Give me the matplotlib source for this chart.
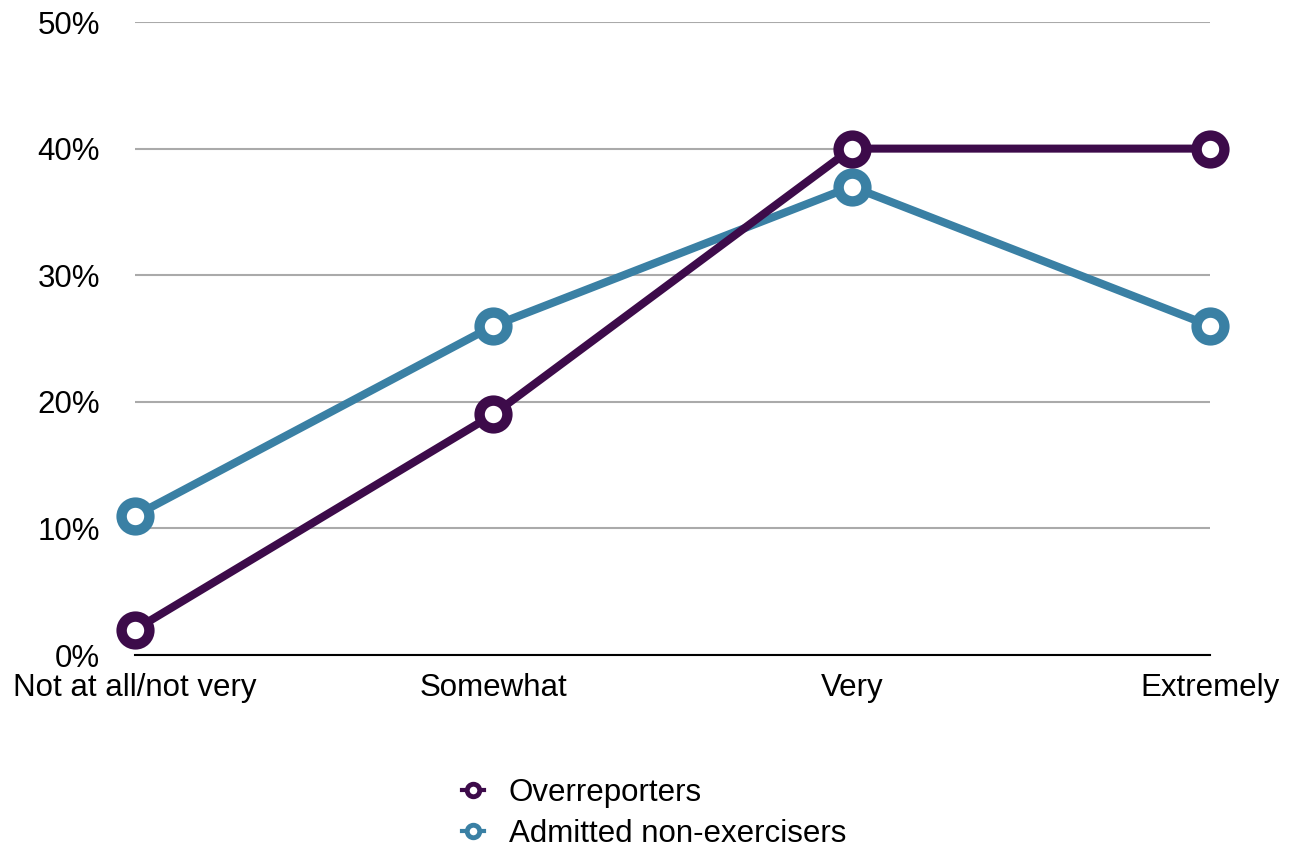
import matplotlib.pyplot as plt
from matplotlib.ticker import FuncFormatter

plt.rcParams['font.family'] = ['Liberation Sans', 'DejaVu Sans']

categories = ['Not at all/not very', 'Somewhat', 'Very', 'Extremely']
overreporters = [2, 19, 40, 40]
admitted = [11, 26, 37, 26]

purple = '#3d0b4a'
blue = '#3a80a4'

fig = plt.figure(figsize=(12.95, 8.5), dpi=100)
ax = fig.add_axes([0.1042, 0.2294, 0.8302, 0.7447])

x = range(len(categories))
style = dict(linewidth=5.8, marker='o', markersize=20, markeredgewidth=7.5,
             markerfacecolor='white', clip_on=False, zorder=3)
ax.plot(x, admitted, color=blue, label='Admitted non-exercisers', **style)
ax.plot(x, overreporters, color=purple, label='Overreporters', **style)

ax.set_xlim(0, 3)
ax.set_ylim(0, 50)
ax.set_yticks(range(0, 51, 10))
ax.yaxis.set_major_formatter(FuncFormatter(lambda v, p: f'{v:.0f}%'))
ax.set_xticks(list(x))
ax.set_xticklabels(categories)
ax.tick_params(axis='y', length=0, pad=25, labelsize=22.5)
ax.tick_params(axis='x', length=0, pad=13, labelsize=22.5)
ax.grid(axis='y', color='#aaaaaa', linewidth=1.5)
ax.set_axisbelow(True)
for side in ['top', 'right', 'left']:
    ax.spines[side].set_visible(False)
ax.spines['bottom'].set_linewidth(1.5)
ax.spines['bottom'].set_color('black')

handles, labels = ax.get_legend_handles_labels()
leg = fig.legend(handles[::-1], labels[::-1], loc='center', bbox_to_anchor=(0.505, 0.043),
                 frameon=False, fontsize=22.5, handlelength=0.7, handletextpad=0.8,
                 labelspacing=0.35, markerscale=0.45)
for line in leg.get_lines():
    line.set_linewidth(3)
    line.set_markeredgewidth(3.5)

fig.savefig('out.png', dpi=100)
